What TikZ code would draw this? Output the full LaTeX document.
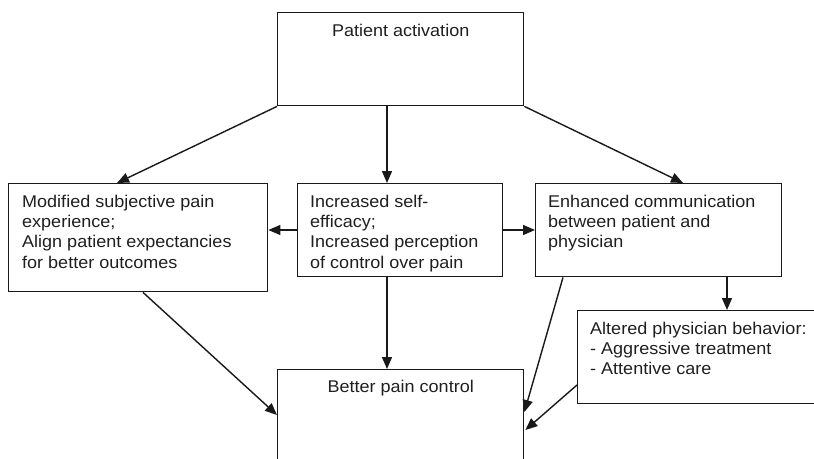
\documentclass[tikz,border=0pt]{standalone}
\usepackage{fontspec}
\setmainfont{Liberation Sans}[FakeStretch=1.06]
\usetikzlibrary{arrows.meta,calc}
\tikzset{
  box/.style={draw=black!90, line width=1.4pt, rectangle, inner sep=0pt, anchor=north west},
  txt/.style={inner sep=0pt, align=left, anchor=north west, text=black!88,
    font=\fontsize{17}{20.3}\selectfont},
  ctxt/.style={inner sep=0pt, align=center, anchor=north, text=black!88,
    font=\fontsize{17}{20.3}\selectfont},
  arr/.style={draw=black!90, line width=1.4pt, -{Triangle[length=12pt,width=10pt]}},
}
\newcommand{\topgap}{\rule{0pt}{24pt}}
\begin{document}
\begin{tikzpicture}[x=1pt,y=-1pt]
\useasboundingbox (0,0) rectangle (814,458);
% boxes
\node[box, minimum width=246pt, minimum height=93pt] (pa) at (277,12) {};
\node[box, minimum width=259pt, minimum height=108pt] (ms) at (8,183) {};
\node[box, minimum width=205pt, minimum height=93pt] (se) at (297,183) {};
\node[box, minimum width=246pt, minimum height=93pt] (ec) at (535,183) {};
\node[box, minimum width=250pt, minimum height=93pt] (ap) at (577,310) {};
\node[box, minimum width=246pt, minimum height=110pt] (bp) at (277,369) {};
% texts
\node[ctxt] (pat) at (pa.north) {\topgap Patient activation};
\node[txt] (mst) at ($(ms.north west)+(14,0)$) {\topgap Modified subjective pain\\experience;\\Align patient expectancies\\for better outcomes};
\node[txt] (set) at ($(se.north west)+(13,0)$) {\topgap Increased self-\\efficacy;\\Increased perception\\of control over pain};
\node[txt] (ect) at ($(ec.north west)+(13,0)$) {\topgap Enhanced communication\\between patient and\\physician};
\node[txt] (apt) at ($(ap.north west)+(13,0)$) {\topgap Altered physician behavior:\\- Aggressive treatment\\- Attentive care};
\node[ctxt] (bpt) at (bp.north) {\rule{0pt}{23.5pt}Better pain control};
% connectors
\draw[arr] (pa.south west) -- ([xshift=109pt]ms.north west);
\draw[arr] ([xshift=110pt]pa.south west) -- ([xshift=90pt]se.north west);
\draw[arr] (pa.south east) -- ([xshift=148pt]ec.north west);
\draw[arr] ([yshift=-47pt]se.north west) -- ([yshift=-47pt]ms.north east);
\draw[arr] ([yshift=-47pt]se.north east) -- ([yshift=-47pt]ec.north west);
\draw[arr] ([xshift=90pt]se.south west) -- ([xshift=110pt]bp.north west);
\draw[arr] ([xshift=135pt]ms.south west) -- ([yshift=-46pt]bp.north west);
\draw[arr] ([xshift=28pt]ec.south west) -- ([yshift=-43pt]bp.north east);
\draw[arr] ([xshift=192pt]ec.south west) -- ([xshift=150pt]ap.north west);
\draw[arr] ([yshift=-75pt]ap.north west) -- ([xshift=1pt,yshift=-61pt]bp.north east);
\end{tikzpicture}
\end{document}
